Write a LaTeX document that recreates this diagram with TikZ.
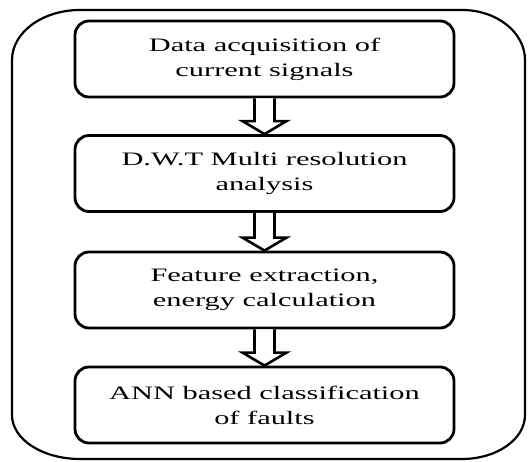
\documentclass[tikz,border=0pt]{standalone}
\usepackage{fontspec}
\setmainfont{Liberation Serif}[FakeStretch=1.6]
\usetikzlibrary{calc}
\tikzset{
  stage/.style={draw, line width=2.8pt, rounded corners=14pt, fill=white,
    minimum width=379pt, minimum height=76pt, align=center,
    font=\fontsize{19}{25}\selectfont, inner sep=0pt},
  hollowarrow/.style={draw, line width=2.6pt, fill=white, line join=miter}
}
\newcommand{\blockarrow}[2]{%
  \draw[hollowarrow]
    ($(#1.south)+(-10,0)$) -- ($(#2.north)+(-10,-13)$) -- ($(#2.north)+(-22,-13)$)
    -- (#2.north) -- ($(#2.north)+(22,-13)$) -- ($(#2.north)+(10,-13)$)
    -- ($(#1.south)+(10,0)$);}
\begin{document}
\begin{tikzpicture}[x=1pt,y=-1pt]
  \useasboundingbox (0,0) rectangle (528,462);
  % outer frame with elliptical corners
  \draw[line width=2.2pt]
    (80,10) -- (462,10)
    .. controls (496.8,10) and (525,32.4) .. (525,60) -- (525,415)
    .. controls (525,439.3) and (496.8,459) .. (462,459) -- (80,459)
    .. controls (42.4,459) and (12,439.3) .. (12,415) -- (12,60)
    .. controls (12,32.4) and (42.4,10) .. (80,10) -- cycle;
  % processing stages
  \node[stage] (acq) at (264.5,59) {Data acquisition of\\current signals};
  \node[stage] (dwt) at (264.5,173.5) {D.W.T Multi resolution\\analysis};
  \node[stage] (feat) at (264.5,290) {Feature extraction,\\energy calculation};
  \node[stage] (ann) at (264.5,405) {ANN based classification\\of faults};
  % hollow arrows between stages
  \blockarrow{acq}{dwt}
  \blockarrow{dwt}{feat}
  \blockarrow{feat}{ann}
\end{tikzpicture}
\end{document}
